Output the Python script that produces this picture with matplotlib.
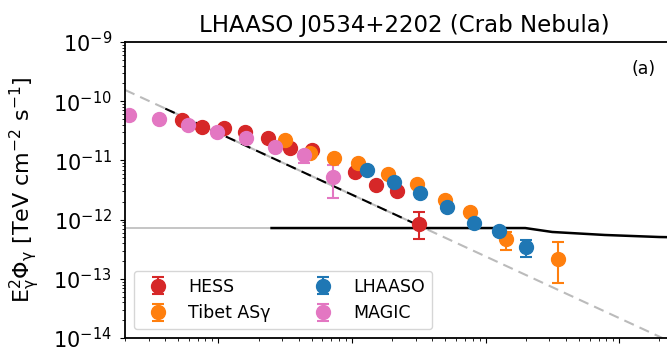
import numpy as np
import matplotlib.pyplot as plt

# energies in TeV, E^2 * flux in TeV cm^-2 s^-1
hess_e = [0.538, 0.758, 1.11, 1.59, 2.37, 3.46, 5.05, 10.6, 15.2, 21.8, 31.9]
hess_f = [4.81e-11, 3.66e-11, 3.52e-11, 3.02e-11, 2.39e-11, 1.62e-11, 1.50e-11,
          6.37e-12, 3.84e-12, 3.04e-12, 8.43e-13]
hess_lo = [4.5e-11, 3.45e-11, 3.3e-11, 2.85e-11, 2.25e-11, 1.52e-11, 1.40e-11,
           5.9e-12, 3.5e-12, 2.7e-12, 4.70e-13]
hess_hi = [5.1e-11, 3.9e-11, 3.75e-11, 3.2e-11, 2.55e-11, 1.72e-11, 1.60e-11,
           6.9e-12, 4.2e-12, 3.4e-12, 1.34e-12]

tibet_e = [3.17, 4.88, 7.38, 11.1, 18.7, 30.8, 49.9, 76.7, 143, 349]
tibet_f = [2.21e-11, 1.33e-11, 1.10e-11, 9.04e-12, 5.89e-12, 3.99e-12, 2.14e-12,
           1.34e-12, 4.70e-13, 2.16e-13]
tibet_lo = [2.05e-11, 1.23e-11, 1.02e-11, 8.4e-12, 5.45e-12, 3.65e-12, 1.95e-12,
            1.2e-12, 3.06e-13, 8.49e-14]
tibet_hi = [2.37e-11, 1.43e-11, 1.18e-11, 9.7e-12, 6.35e-12, 4.35e-12, 2.35e-12,
            1.5e-12, 6.18e-13, 4.19e-13]

lhaaso_e = [13.0, 20.7, 32.4, 51.6, 82.2, 126, 201]
lhaaso_f = [6.88e-12, 4.31e-12, 2.81e-12, 1.63e-12, 8.77e-13, 6.41e-13, 3.44e-13]
lhaaso_lo = [6.5e-12, 4.05e-12, 2.62e-12, 1.5e-12, 7.9e-13, 5.6e-13, 2.33e-13]
lhaaso_hi = [7.25e-12, 4.6e-12, 3.0e-12, 1.77e-12, 9.7e-13, 7.3e-13, 4.52e-13]

magic_e = [0.216, 0.362, 0.597, 0.983, 1.62, 2.67, 4.40, 7.24]
magic_f = [5.85e-11, 5.0e-11, 3.96e-11, 3.02e-11, 2.39e-11, 1.68e-11, 1.23e-11,
           5.25e-12]
magic_lo = [4.9e-11, 4.6e-11, 3.7e-11, 2.8e-11, 2.2e-11, 1.55e-11, 9.0e-12, 2.32e-12]
magic_hi = [6.6e-11, 5.4e-11, 4.2e-11, 3.25e-11, 2.58e-11, 1.82e-11, 1.4e-11,
            8.35e-12]

# power law model (grey, full range) and fitted range (black)
model_e = [0.2, 3000]
model_f = [1.55e-10, 6.9e-15]
fit_e = [0.4, 30]
fit_f = [7.5e-11, 8.4e-13]

# sensitivity curve
sens_e = [0.2, 2.5]
sens_f = [7.2e-13, 7.2e-13]
sens2_e = [2.5, 198, 315, 779, 1990, 3000]
sens2_f = [7.2e-13, 7.2e-13, 6.18e-13, 5.5e-13, 5.08e-13, 5.0e-13]

plt.rcParams['font.family'] = 'DejaVu Sans'
fig = plt.figure(figsize=(6.67, 3.47), dpi=100)
ax = fig.add_axes([125 / 667, 9 / 347, 558 / 667, 296 / 347])

ax.plot(model_e, model_f, color='#bbbbbb', ls='--', lw=1.5, dashes=(5, 3))
ax.plot(fit_e, fit_f, color='black', ls='--', lw=1.5, dashes=(5, 3))
ax.plot(sens_e, sens_f, color='#bbbbbb', lw=1.2)
ax.plot(sens2_e, sens2_f, color='black', lw=1.8)

sets = [
    ('HESS', hess_e, hess_f, hess_lo, hess_hi, 'tab:red'),
    ('Tibet ASγ', tibet_e, tibet_f, tibet_lo, tibet_hi, 'tab:orange'),
    ('LHAASO', lhaaso_e, lhaaso_f, lhaaso_lo, lhaaso_hi, 'tab:blue'),
    ('MAGIC', magic_e, magic_f, magic_lo, magic_hi, 'tab:pink'),
]
for name, e, f, lo, hi, col in sets:
    f = np.array(f)
    yerr = [f - np.array(lo), np.array(hi) - f]
    ax.errorbar(e, f, yerr=yerr, fmt='o', color=col, ms=10, capsize=4,
                elinewidth=1.5, capthick=1.5, label=name)

ax.set_xscale('log')
ax.set_yscale('log')
ax.set_xlim(0.2, 3000)
ax.set_ylim(1e-14, 1e-9)
ax.tick_params(labelsize=15, pad=6)
ax.tick_params(axis='x', labelbottom=False)
for s in ax.spines.values():
    s.set_linewidth(1.3)

ax.set_ylabel(r'$\mathrm{E_\gamma^2\Phi_\gamma}$ [TeV cm$^{-2}$ s$^{-1}$]', fontsize=16,
              labelpad=8)
ax.set_title('LHAASO J0534+2202 (Crab Nebula)', fontsize=16.5, pad=7)
ax.text(0.93, 0.91, '(a)', transform=ax.transAxes, fontsize=12.5, ha='center', va='center')
ax.legend(loc='lower left', ncol=2, fontsize=12.5, columnspacing=2.0,
          handletextpad=0.75)

plt.savefig('out.png')
